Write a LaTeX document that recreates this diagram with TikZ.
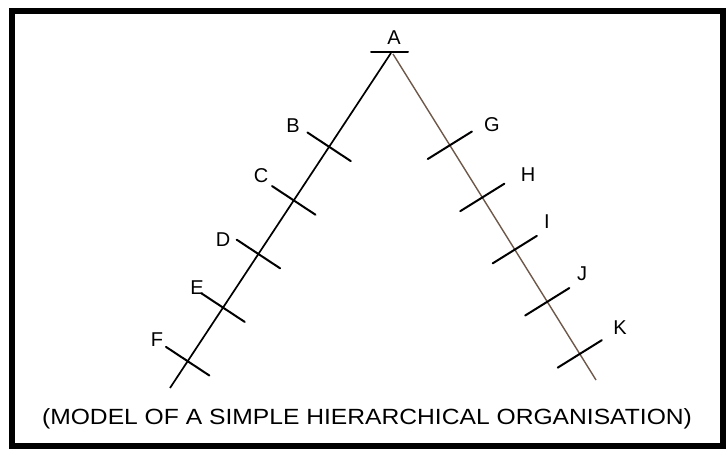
\documentclass[tikz,border=0pt]{standalone}
\usepackage{fontspec}
\setmainfont{Liberation Sans}
\usepackage{graphicx}
\usepackage{xcolor}
\usetikzlibrary{calc}
\definecolor{armbrown}{RGB}{110,88,74}

\begin{document}
\begin{tikzpicture}[x=1pt,y=-1pt,
  frame/.style={line width=6pt},
  leftarm/.style={line width=1.7pt,black},
  rightarm/.style={line width=1.4pt,armbrown},
  notch/.style={line width=2pt,line cap=round},
  lbl/.style={inner sep=0pt,font=\fontsize{20}{22}\selectfont}]
\useasboundingbox (0,0) rectangle (726,454);
\draw[frame] (12,11) rectangle (723,446);
% apex
\node[lbl] (A) at (394,38) {A};
\coordinate (a1) at (371,52);
\coordinate (a2) at (408,52);
\draw[notch] (a1) -- (a2);
\coordinate (topL) at (391,53);
\coordinate (endL) at (170,388);
\coordinate (topR) at (393,54);
\coordinate (endR) at (596,380);
\draw[leftarm] (topL) -- (endL);
\draw[rightarm] (topR) -- (endR);
% left arm
\foreach \n/\lx/\ly [count=\i] in {B/293/126,C/261/176,D/223/240,E/197/288,F/157/340}{
  \coordinate (\n) at ($(topL)!{0.12+0.16*\i}!(endL)$);
  \draw[notch] ($(\n)!26pt!90:(topL)$) -- ($(\n)!26pt!-90:(topL)$);
  \node[lbl] (l\n) at (\lx,\ly) {\n};
}
% right arm
\foreach \n/\lx/\ly [count=\i] in {G/492/125,H/528/175,I/547/222,J/582/274,K/620/328}{
  \coordinate (\n) at ($(topR)!{0.12+0.16*\i}!(endR)$);
  \draw[notch] ($(\n)!26pt!90:(topR)$) -- ($(\n)!26pt!-90:(topR)$);
  \node[lbl] (l\n) at (\lx,\ly) {\n};
}
\node (caption) at (367,419) {\fontsize{22}{26}\selectfont\scalebox{1.12}[1]{(MODEL OF A SIMPLE HIERARCHICAL ORGANISATION)}};
\end{tikzpicture}
\end{document}
